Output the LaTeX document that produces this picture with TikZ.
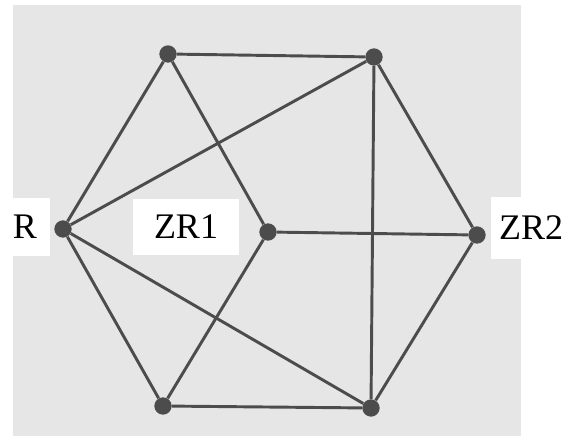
\documentclass[tikz,border=0pt]{standalone}
\usepackage{fontspec}
\setmainfont{Liberation Serif}
\usetikzlibrary{positioning}
\definecolor{papel}{HTML}{E6E6E6}
\definecolor{tinta}{HTML}{4C4C4C}

\begin{document}
\begin{tikzpicture}[x=0.75pt,y=-0.75pt,
    vertice/.style={circle, fill=tinta, inner sep=0pt, minimum size=13pt},
    aresta/.style={tinta, line width=2.2pt},
    rotulo/.style={fill=white, inner sep=0pt, font=\fontsize{27}{32}\selectfont}]
        % Fundo
        \useasboundingbox (0,0) rectangle (571,436);
        \fill[white] (0,0) rectangle (571,436);
        \fill[papel] (13,5) rectangle (521,436);

        % Vertices
        \node[vertice] (r)   at (63,229)  {};
        \node[vertice] (zr1) at (268,232) {};
        \node[vertice] (zr2) at (477,235) {};
        \node[vertice] (ne)  at (168,54)  {};
        \node[vertice] (nd)  at (374,57)  {};
        \node[vertice] (se)  at (163,406) {};
        \node[vertice] (sd)  at (371,408) {};

        % Arestas
        \draw[aresta] (r) -- (ne) -- (nd) -- (zr2) -- (sd) -- (se) -- (r);
        \draw[aresta] (r) -- (nd) -- (sd) -- (r);
        \draw[aresta] (ne) -- (zr1) -- (se);
        \draw[aresta] (zr1) -- (zr2);

        % Rotulos
        \node[rotulo, minimum width=37.5pt, minimum height=43pt] (lr) at (25,227) {R};
        \node[rotulo, minimum width=80pt, minimum height=42pt] (lzr1) at (186,227) {ZR1};
        \node[rotulo, minimum width=60pt, minimum height=46pt] (lzr2) at (531,228) {ZR2};
\end{tikzpicture}
\end{document}
